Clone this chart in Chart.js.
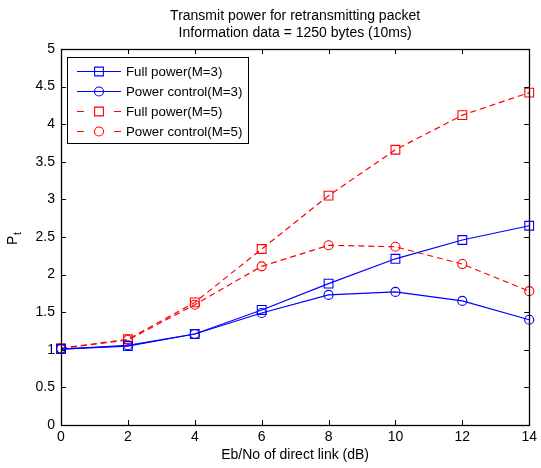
<!DOCTYPE html>
<html>
<head>
<meta charset="utf-8">
<script src="https://cdn.jsdelivr.net/npm/chart.js@4.4.1/dist/chart.umd.min.js"></script>
<style>
  html, body { margin: 0; padding: 0; background: #fff; }
  #wrap { width: 541px; height: 468px; }
</style>
</head>
<body>
<div id="wrap"><canvas id="ptChart" width="541" height="468"></canvas></div>
<script>
// data
var ebno = [0, 2, 4, 6, 8, 10, 12, 14];
var fullPowerM3 = [1.01, 1.05, 1.21, 1.53, 1.88, 2.21, 2.46, 2.65];
var powerCtrlM3 = [1.01, 1.06, 1.21, 1.49, 1.73, 1.77, 1.65, 1.40];
var fullPowerM5 = [1.02, 1.14, 1.63, 2.34, 3.05, 3.66, 4.12, 4.42];
var powerCtrlM5 = [1.02, 1.13, 1.60, 2.11, 2.39, 2.37, 2.14, 1.78];
var seriesNames = ['Full power(M=3)', 'Power control(M=3)', 'Full power(M=5)', 'Power control(M=5)'];
var titleLines = ['Transmit power for retransmitting packet', 'Information data = 1250 bytes (10ms)'];
var xLabel = 'Eb/No of direct link (dB)';

var FONT = '"Liberation Sans", Arial, Helvetica, sans-serif';
var FS = 14;

function pts(vals) {
    return ebno.map(function (x, i) { return { x: x, y: vals[i] }; });
}

function makeSet(label, vals, color, style, dashed) {
    return {
        label: label,
        data: pts(vals),
        borderColor: color,
        backgroundColor: 'rgba(0,0,0,0)',
        pointBorderColor: color,
        pointBackgroundColor: 'rgba(0,0,0,0)',
        borderWidth: 1.2,
        pointBorderWidth: 1.1,
        borderDash: dashed ? [6, 4] : [],
        pointStyle: style,
        pointRadius: style === 'rect' ? 6.2 : 4.5,
        pointHoverRadius: style === 'rect' ? 6.2 : 4.5,
        tension: 0,
        fill: false,
        clip: false
    };
}

// box + inward ticks on all four sides (matlab look)
var framePlugin = {
    id: 'frame',
    afterDraw: function (chart) {
        var ctx = chart.ctx, a = chart.chartArea;
        var xs = chart.scales.x, ys = chart.scales.y;
        var len = 5;
        ctx.save();
        ctx.strokeStyle = '#000';
        ctx.lineWidth = 1;
        ctx.setLineDash([]);
        ctx.beginPath();
        xs.ticks.forEach(function (t) {
            var px = Math.round(xs.getPixelForValue(t.value)) + 0.5;
            ctx.moveTo(px, a.bottom); ctx.lineTo(px, a.bottom - len);
            ctx.moveTo(px, a.top); ctx.lineTo(px, a.top + len);
        });
        ys.ticks.forEach(function (t) {
            var py = Math.round(ys.getPixelForValue(t.value)) + 0.5;
            ctx.moveTo(a.left, py); ctx.lineTo(a.left + len, py);
            ctx.moveTo(a.right, py); ctx.lineTo(a.right - len, py);
        });
        ctx.stroke();
        ctx.lineWidth = 1.3;
        ctx.strokeRect(Math.round(a.left) + 0.5, Math.round(a.top) + 0.5,
            Math.round(a.right - a.left), Math.round(a.bottom - a.top));

        // y label P with subscript t
        ctx.fillStyle = '#000';
        ctx.translate(17, 240);
        ctx.rotate(-Math.PI / 2);
        ctx.textBaseline = 'alphabetic';
        ctx.textAlign = 'left';
        ctx.font = FS + 'px ' + FONT;
        ctx.fillText('P', -5, 0);
        ctx.font = '10px ' + FONT;
        ctx.fillText('t', 5, 4);
        ctx.restore();
    }
};

// legend box inside the axes, line + marker samples
var legendBoxPlugin = {
    id: 'legendBox',
    afterDraw: function (chart) {
        var ctx = chart.ctx;
        var bx = 67, by = 57, bw = 181, bh = 86;
        ctx.save();
        ctx.fillStyle = '#fff';
        ctx.fillRect(bx, by, bw, bh);
        ctx.strokeStyle = '#000';
        ctx.lineWidth = 1;
        ctx.strokeRect(bx + 0.5, by + 0.5, bw, bh);
        chart.data.datasets.forEach(function (ds, i) {
            var y = by + 14 + i * 20;
            var dashed = ds.borderDash.length > 0;
            ctx.strokeStyle = ds.borderColor;
            ctx.lineWidth = 1.2;
            ctx.setLineDash(dashed ? [7, 30] : []);
            ctx.beginPath();
            ctx.moveTo(77, y + 0.5);
            ctx.lineTo(121, y + 0.5);
            ctx.stroke();
            ctx.setLineDash([]);
            ctx.lineWidth = 1.1;
            ctx.fillStyle = 'rgba(0,0,0,0)';
            ctx.strokeStyle = ds.borderColor;
            Chart.helpers.drawPoint(ctx, {
                pointStyle: ds.pointStyle,
                radius: ds.pointRadius,
                borderWidth: 1.1
            }, 99, y + 0.5);
            ctx.fillStyle = '#000';
            ctx.font = '13.3px ' + FONT;
            ctx.textBaseline = 'middle';
            ctx.textAlign = 'left';
            ctx.fillText(seriesNames[i], 126, y + 1);
        });
        ctx.restore();
    }
};

var ctx = document.getElementById('ptChart').getContext('2d');

var ptChart = new Chart(ctx, {
    type: 'line',
    data: {
        datasets: [
            makeSet(seriesNames[0], fullPowerM3, '#0000ff', 'rect', false),
            makeSet(seriesNames[1], powerCtrlM3, '#0000ff', 'circle', false),
            makeSet(seriesNames[2], fullPowerM5, '#ff0000', 'rect', true),
            makeSet(seriesNames[3], powerCtrlM5, '#ff0000', 'circle', true)
        ]
    },
    options: {
        responsive: false,
        animation: false,
        layout: { padding: { left: 0, right: 7, top: 0, bottom: 0 } },
        plugins: {
            legend: { display: false },
            tooltip: { enabled: false },
            title: {
                display: true,
                text: titleLines,
                fullSize: false,
                color: '#000',
                font: { family: FONT, size: FS, weight: 'normal', lineHeight: 1.2 },
                padding: { top: 7.5, bottom: 7.9 }
            }
        },
        scales: {
            x: {
                type: 'linear',
                min: 0,
                max: 14,
                ticks: {
                    stepSize: 2,
                    color: '#000',
                    padding: 4,
                    maxRotation: 0,
                    font: { family: FONT, size: FS }
                },
                grid: { display: false, drawTicks: false },
                border: { display: false },
                title: {
                    display: true,
                    text: xLabel,
                    color: '#000',
                    font: { family: FONT, size: FS },
                    padding: { top: 0, bottom: 4 }
                },
                afterFit: function (s) { s.height = 43; }
            },
            y: {
                min: 0,
                max: 5,
                ticks: {
                    stepSize: 0.5,
                    color: '#000',
                    padding: 6,
                    font: { family: FONT, size: FS },
                    callback: function (v) { return String(Math.round(v * 10) / 10); }
                },
                grid: { display: false, drawTicks: false },
                border: { display: false },
                afterFit: function (s) { s.width = 61; }
            }
        }
    },
    plugins: [framePlugin, legendBoxPlugin]
});
</script>
</body>
</html>
